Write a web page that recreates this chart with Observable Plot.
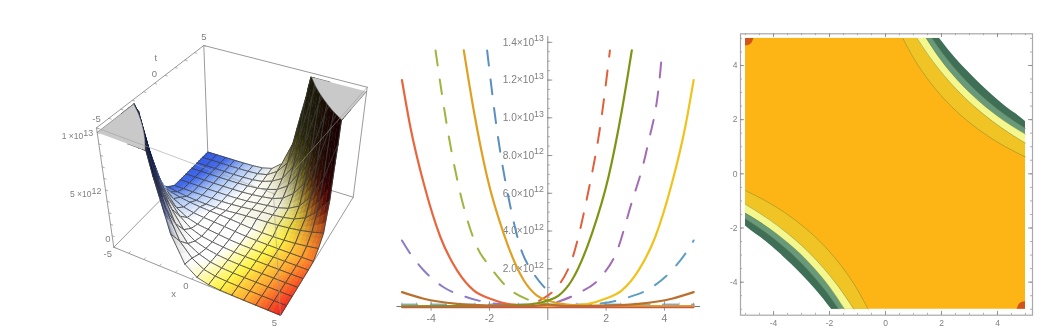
<!DOCTYPE html>
<html>
<head>
<meta charset="utf-8">
<script src="https://cdn.jsdelivr.net/npm/d3@7"></script>
<script src="https://cdn.jsdelivr.net/npm/@observablehq/plot@0.6"></script>
<style>
html,body{margin:0;padding:0;background:#fff;overflow:hidden}
#page{position:relative;width:1061px;height:335px;overflow:hidden;filter:blur(0.35px)}
</style>
</head>
<body>
<div id="page"></div>
<script>
// ---------- surface (values in units of 1e12; rows t>0, columns x ascending) ----------
const gridNodes = [-5,-4.333,-3.667,-3,-2.333,-1.667,-1,-0.333,0.333,1,1.667,2.333,3,3.667,4.333,5];
const heightsT033 = [.5,.34,.22,.15,.12,.12,.16,.25,.33,.38,.42,.48,.58,.72,.92,1.2];
const heightsT100 = [.06,.05,.05,.05,.06,.08,.12,.2,.3,.38,.45,.55,.75,1.2,2.1,3.5];
const heightsT167 = [.03,.03,.03,.03,.04,.05,.08,.14,.25,.36,.48,.75,1.3,2.5,4.5,8];
const heightsT233 = [.02,.02,.02,.02,.03,.04,.07,.14,.25,.4,.75,1.5,2.8,5,9,17];
const heightsT300 = [.02,.02,.02,.02,.02,.04,.08,.17,.35,.65,1.3,2.8,5,9,16,30];
const heightsT367 = [.02,.02,.02,.02,.02,.04,.09,.22,.55,1.1,2.5,5,9,16,30,55];
const heightsT433 = [.02,.02,.02,.02,.03,.05,.11,.3,.9,2,4.5,9,16,30,50,80];
const heightsT500 = [.02,.02,.02,.02,.03,.05,.12,.35,1.1,3.3,8,17,30,55,80,120];
const upperRows = [heightsT033,heightsT100,heightsT167,heightsT233,heightsT300,heightsT367,heightsT433,heightsT500];

// ---------- slices (x, y in units of 1e12) ----------
const orangeX = [-5,-4.71,-4.25,-3.68,-3.11,-2.54,-1.97,-1.39,-.71,0,1,3,5];
const orangeY = [12,9.5,6.5,3.67,1.91,.85,.41,.14,.05,.02,.01,.01,.01];
const yellowX = [-5,-3,-1,0,.71,1.39,1.97,2.54,3.11,3.68,4.25,4.71,5];
const yellowY = [.01,.01,.01,.02,.05,.14,.41,.85,1.91,3.67,6.5,9.5,12];
const goldX = [-2.88,-2.54,-2.08,-1.51,-.82,-.37,0,.66,1.7,5];
const goldY = [13.57,10.4,6.86,3.85,1.38,.58,.32,.1,.04,.01];
const oliveX = [-5,-1.7,-.66,0,.37,.82,1.51,2.08,2.54,2.88];
const oliveY = [.01,.04,.1,.32,.58,1.38,3.85,6.86,10.4,13.57];
const greenDashX = [-3.85,-3.39,-2.94,-2.42,-1.97,-1.39,-.6,0];
const greenDashY = [13.57,8.97,5.62,3.14,2.08,1.02,.32,.14];
const purpleDashX = [.32,1,1.81,2.38,2.83,3.41,3.86,3.92];
const purpleDashY = [.23,.67,1.55,2.97,5.27,8.45,12.5,13.57];
const blueDashX = [-2.08,-1.74,-1.28,-.94,-.48,-.02,.2];
const blueDashY = [13.57,9.33,5.27,3.14,1.73,.85,.5];
const redDashX = [-.3,0,.32,.89,1.35,1.81,2.13];
const redDashY = [.3,.58,1.02,2.79,5.8,9.68,13.57];
const lilacDashX = [-5,-4.71,-4.25,-3.57,-2.77,-1.74,-.82];
const lilacDashY = [3.5,2.79,1.91,1.02,.49,.14,.05];
const skyDashX = [.82,1.74,2.77,3.57,4.25,4.71,5];
const skyDashY = [.05,.14,.49,1.02,1.91,2.79,3.5];
const brownX = [-5,-4.25,-3.11,-1.97,-.6,0,.6,1.97,3.11,4.25,5];
const brownY = [.76,.41,.14,.05,.02,.1,.02,.05,.14,.41,.76];
const baseX = [-5,-2.5,0,2.5,5];
const baseTealY = [.1,.1,.1,.1,.1];
const baseLilacY = [.08,.08,.08,.08,.08];
const baseRedY = [-.05,-.05,-.05,-.05,-.05];

const sliceTicks = [2,4,6,8,10,12,14];
const sliceTickBases = ["2.0×10","4.0×10","6.0×10","8.0×10","1.0×10","1.2×10","1.4×10"];
const sliceTickExps = ["12","12","12","12","13","13","13"];
const evenTicks = [-4,-2,2,4];

// ---------- contours (upper-right branch: x, t) ----------
const contour1X = [.62,1,1.6,2.42,3.37,4.28,5];
const contour1T = [5,4.28,3.37,2.42,1.6,1,.62];
const contour2X = [1.13,1.7,2.2,2.82,3.5,4.14,5];
const contour2T = [5,4.14,3.5,2.82,2.2,1.7,1.13];
const contour3X = [1.46,1.96,2.6,3,3.43,4.23,5];
const contour3T = [5,4.23,3.43,3,2.6,1.96,1.46];
const contour4X = [1.67,2.14,2.7,3.15,3.63,4.32,5];
const contour4T = [5,4.32,3.63,3.15,2.7,2.14,1.67];
const contour5X = [1.93,2.5,2.9,3.35,3.82,4.27,5];
const contour5T = [5,4.27,3.82,3.35,2.9,2.5,1.93];
const cornerX = [-5,-4.85,-4.75,-4.7];
const cornerT = [4.72,4.76,4.87,5];

const zip = (xs, ys) => xs.map((x,i) => ({x, y: ys[i]}));
const font = "'Liberation Sans', Arial, sans-serif";
const labelGray = "#808080";
const page = document.getElementById("page");

// ========== Panel 1: 3D surface ==========
const bottomFace = {l:[113.3,246.7], b:[207.3,151.7], r:[352.7,196.7], f:[280,315]};
const topFace    = {l:[96,127.3],    b:[203.3,45],    r:[366.7,86.7],  f:[273,193]};
const zTop = 10.4, zCap = 10;
function homography(F){
  const [x0,y0]=F.l,[x1,y1]=F.f,[x2,y2]=F.r,[x3,y3]=F.b;
  const dx1=x1-x2,dx2=x3-x2,sx=x0-x1+x2-x3,dy1=y1-y2,dy2=y3-y2,sy=y0-y1+y2-y3;
  const den=dx1*dy2-dx2*dy1, g=(sx*dy2-dx2*sy)/den, h=(dx1*sy-sx*dy1)/den;
  const a=x1-x0+g*x1,b=x3-x0+h*x3,d=y1-y0+g*y1,e=y3-y0+h*y3;
  return (u,v)=>{const w=g*u+h*v+1;return [(a*u+b*v+x0)/w,(d*u+e*v+y0)/w];};
}
const bottomMap = homography(bottomFace), topMap = homography(topFace);
function project(x,t,z){
  const a=(x+5)/10, b=(t+5)/10, h=z/zTop;
  const p0=bottomMap(a,b), p1=topMap(a,b);
  return {x:(1-h)*p0[0]+h*p1[0], y:(1-h)*p0[1]+h*p1[1]};
}
const heightRows = [...upperRows.slice().reverse().map(r=>r.slice().reverse()), ...upperRows]; // t ascending
const floorRamp = d3.scaleLinear()
  .domain([-6.5,-5,-3.5,-1.5,1.2,3,4.6,6.5])
  .range(["#2f55e6","#3f68ea","#a8c4f6","#ffffff","#ffffff","#fff345","#ffa52e","#f01c1c"])
  .clamp(true);
const clamp01 = v => Math.max(0,Math.min(1,v));
function surfaceColor(x,t,z){
  let base = floorRamp(x - 0.3*t);
  let k;
  if (x+t < 0) {
    base = d3.interpolateRgb(base,"#2f55e6")(clamp01((z-3)/3));
    k = .8*(1-Math.exp(-Math.pow(z/6,2)));
  } else {
    const wall = d3.interpolateRgb("#e8d838","#d01010")(clamp01((x-2.5)/2));
    base = d3.interpolateRgb(base,wall)(clamp01(z/4));
    k = .88*(1-Math.exp(-Math.pow(z/3,1.6)));
  }
  return d3.interpolateRgb(base,"#000")(k);
}
const SUB = 3, surfacePts = [];
let gid = 0;
const order = [];
for (let ti=0;ti<15;ti++) for (let xi=0;xi<15;xi++) order.push([ti,xi]);
order.sort((p,q)=>(gridNodes[p[1]]-gridNodes[p[0]])-(gridNodes[q[1]]-gridNodes[q[0]]));
function zAt(ti,xi,u,v){
  const r0=heightRows[ti], r1=heightRows[ti+1];
  return (1-v)*((1-u)*r0[xi]+u*r0[xi+1]) + v*((1-u)*r1[xi]+u*r1[xi+1]);
}
for (const [ti,xi] of order){
  const x0=gridNodes[xi], x1=gridNodes[xi+1], t0=gridNodes[ti], t1=gridNodes[ti+1];
  const pt=(u,v)=>{const z=zAt(ti,xi,u,v);const p=project(x0+(x1-x0)*u,t0+(t1-t0)*v,Math.min(z,zCap));return {...p,z};};
  if (Math.min(heightRows[ti][xi],heightRows[ti][xi+1],heightRows[ti+1][xi],heightRows[ti+1][xi+1])>=zCap) continue;
  for (let i=0;i<SUB;i++) for (let j=0;j<SUB;j++){
    const u0=i/SUB,u1=(i+1)/SUB,v0=j/SUB,v1=(j+1)/SUB;
    const q=[pt(u0,v0),pt(u1,v0),pt(u1,v1),pt(u0,v1)];
    const uc=(u0+u1)/2,vc=(v0+v1)/2,zc=zAt(ti,xi,uc,vc);
    if (q.every(p=>p.z>=zCap)) continue;
    const c=surfaceColor(x0+(x1-x0)*uc,t0+(t1-t0)*vc,Math.min(zc,zCap));
    gid++;
    q.forEach(p=>surfacePts.push({x:p.x,y:p.y,id:gid,fill:c,stroke:c}));
  }
  gid++;
  const ring=[pt(0,0),pt(1/3,0),pt(2/3,0),pt(1,0),pt(1,1/3),pt(1,2/3),pt(1,1),pt(2/3,1),pt(1/3,1),pt(0,1),pt(0,2/3),pt(0,1/3),pt(0,0)];
  ring.forEach(p=>surfacePts.push({x:p.x,y:p.y,id:gid,fill:"none",stroke:"#3c3c3c"}));
}
const boxEdge = (a,b)=>[project(...a),project(...b)];
const backEdges = [
  boxEdge([-5,-5,zTop],[-5,5,zTop]), boxEdge([-5,5,zTop],[5,5,zTop]),
  boxEdge([-5,5,0],[-5,5,zTop]), boxEdge([-5,-5,0],[-5,5,0]), boxEdge([-5,5,0],[5,5,0]),
  boxEdge([-5,-5,0],[-5,-5,zTop]), boxEdge([5,5,0],[5,5,zTop]),
  boxEdge([-5,-5,0],[5,-5,0]), boxEdge([5,-5,0],[5,5,0])
].flatMap((e,i)=>e.map(p=>({...p,id:i})));
const frontEdges = [
  boxEdge([-5,-5,zTop],[5,-5,zTop]), boxEdge([5,-5,zTop],[5,5,zTop]), boxEdge([5,-5,0],[5,-5,zTop])
].flatMap((e,i)=>e.map(p=>({...p,id:i})));
const capRight = [...contour5X.map((x,i)=>project(x,contour5T[i],zCap)), project(5,5,zCap)];
const capLeft  = [...contour5X.map((x,i)=>project(-x,-contour5T[i],zCap)), project(-5,-5,zCap)];
const tickVals = d3.range(-5,5.01,1);
const xAxisTicks = tickVals.flatMap((v,i)=>boxEdge([v,-5,0],[v,-4.85,0]).map(p=>({...p,id:"x"+i})));
const tAxisTicks = tickVals.flatMap((v,i)=>boxEdge([-5,v,zTop],[-4.85,v,zTop]).map(p=>({...p,id:"t"+i})));
const zAxisTicks = d3.range(0,10.01,1).flatMap((v,i)=>boxEdge([-5,-5,v],[-4.85,-5,v]).map(p=>({...p,id:"z"+i})));
const tLabels = [{v:-5,s:"-5"},{v:0,s:"0"},{v:5,s:"5"}].map(d=>({...project(-5,d.v,zTop),s:d.s}));
const xLabels = [{v:-5,s:"-5"},{v:0,s:"0"},{v:5,s:"5"}].map(d=>({...project(d.v,-5,0),s:d.s}));
const zLabels = [{v:5,b:"5 ×10",e:"12"},{v:10,b:"1 ×10",e:"13"}].map(d=>({...project(-5,-5,d.v),b:d.b,e:d.e}));

const p1 = Plot.plot({
  width:385,height:335,margin:0,axis:null,
  x:{domain:[0,385],range:[0,385]},y:{domain:[0,335],range:[0,335]},
  style:{position:"absolute",left:"0px",top:"0px",fontFamily:font,background:"transparent"},
  marks:[
    Plot.line(backEdges,{x:"x",y:"y",z:"id",stroke:"#9a9a9a",strokeWidth:1}),
    Plot.line([...xAxisTicks,...tAxisTicks,...zAxisTicks],{x:"x",y:"y",z:"id",stroke:"#9a9a9a",strokeWidth:.8}),
    Plot.line(surfacePts,{x:"x",y:"y",z:"id",
      fill:{value:"fill",scale:null},stroke:{value:"stroke",scale:null},strokeWidth:.8,curve:"linear"}),
    Plot.line(capRight,{x:"x",y:"y",fill:"#c9c9c9",stroke:"#555",strokeWidth:.5}),
    Plot.line(capLeft,{x:"x",y:"y",fill:"#c9c9c9",stroke:"#555",strokeWidth:.5}),
    Plot.line(frontEdges,{x:"x",y:"y",z:"id",stroke:"#9a9a9a",strokeWidth:1,strokeOpacity:.55}),
    Plot.text(tLabels,{x:"x",y:"y",text:"s",dx:0,dy:-9,fontSize:9.5,fill:labelGray}),
    Plot.text(xLabels,{x:"x",y:"y",text:"s",dx:-6,dy:7,fontSize:9.5,fill:labelGray}),
    Plot.text(zLabels,{x:"x",y:"y",text:"b",dx:-14,dy:4,textAnchor:"end",fontSize:8.5,fill:labelGray}),
    Plot.text(zLabels,{x:"x",y:"y",text:"e",dx:-14,dy:1,textAnchor:"start",fontSize:9,fill:labelGray}),
    Plot.text([project(-5,-5,0)],{x:"x",y:"y",text:["0"],dx:-6,dy:-8,fontSize:9.5,fill:labelGray}),
    Plot.text([project(-5,0.8,zTop)],{x:"x",y:"y",text:["t"],dx:-7,dy:-19,fontSize:9.5,fill:labelGray}),
    Plot.text([project(-0.5,-5,0)],{x:"x",y:"y",text:["x"],dx:-10,dy:18,fontSize:9.5,fill:labelGray})
  ]
});
page.appendChild(p1);

// ========== Panel 2: slices ==========
const solid = 2.2, dashW = 2, dash = "15,14";
const lineOf = (xs,ys,color,dashed,w,op) => Plot.line(zip(xs,ys),{x:"x",y:"y",stroke:color,strokeOpacity:op||1,
  strokeWidth:w||(dashed?dashW:solid),strokeDasharray:dashed?dash:undefined,curve:"monotone-x"});
const minorY = d3.range(0,14.01,.5), minorX = d3.range(-5,5.01,.5);
const p2 = Plot.plot({
  width:330,height:335,margin:0,axis:null,
  x:{domain:[-5.564,5.749],range:[0,330]},
  y:{domain:[-1.537,16.216],range:[335,0]},
  style:{position:"absolute",left:"385px",top:"0px",fontFamily:font,background:"transparent"},
  marks:[
    Plot.ruleX([0],{y1:-.74,y2:14.3,stroke:"#8a8a8a",strokeWidth:1}),
    Plot.ruleY(minorY,{x1:0,x2:.09,stroke:"#9a9a9a",strokeWidth:.8}),
    Plot.ruleY(sliceTicks,{x1:0,x2:.17,stroke:"#8a8a8a",strokeWidth:.9}),
    Plot.ruleX(minorX,{y1:-.05,y2:.18,stroke:"#9a9a9a",strokeWidth:.8}),
    Plot.ruleX(evenTicks,{y1:-.25,y2:.25,stroke:"#8a8a8a",strokeWidth:.9}),
    Plot.text(sliceTicks,{x:-.47,y:d=>d,text:(d,i)=>sliceTickBases[i],textAnchor:"end",fontSize:10.2,fill:labelGray}),
    Plot.text(sliceTicks,{x:-.47,y:d=>d,dy:-4,text:(d,i)=>sliceTickExps[i],textAnchor:"start",fontSize:8.8,fill:labelGray}),
    Plot.text(evenTicks,{x:d=>d,y:-.66,text:d=>String(d),fontSize:10.5,fill:labelGray}),
    lineOf(baseX,baseTealY,"#62a8c8",true,2.2,.8),
    lineOf(baseX,baseLilacY,"#a083b8",true,1.6,.45),
    lineOf(skyDashX,skyDashY,"#5f9fc4",true),
    lineOf(lilacDashX,lilacDashY,"#8d7cc6",true),
    lineOf(blueDashX,blueDashY,"#5b8fc0",true),
    lineOf(greenDashX,greenDashY,"#9eb53f",true),
    lineOf(purpleDashX,purpleDashY,"#a36cb4",true),
    lineOf(redDashX,redDashY,"#e0603c",true),
    Plot.ruleY([0],{x1:-5.17,x2:5.23,stroke:"#6f7480",strokeWidth:1.2}),
    lineOf(orangeX,orangeY,"#e8663e"),
    lineOf(yellowX,yellowY,"#f0c21c"),
    lineOf(goldX,goldY,"#dfa023"),
    lineOf(oliveX,oliveY,"#7f9414"),
    lineOf(brownX,brownY,"#b9702e",false,2.2),
    lineOf(baseX,baseRedY,"#c9564a",false,1.6)
  ]
});
page.appendChild(p2);

// ========== Panel 3: contours ==========
const bands = [
  {xs:contour1X,ts:contour1T,fill:"#f0c424"},
  {xs:contour2X,ts:contour2T,fill:"#f3f78e"},
  {xs:contour3X,ts:contour3T,fill:"#67997a"},
  {xs:contour4X,ts:contour4T,fill:"#406f58"},
  {xs:[...contour5X,5.06],ts:[...contour5T,1.87],fill:"#ffffff",top:5.06}
];
const bandMarks = bands.flatMap(b=>{
  const up = zip(b.xs,b.ts);
  const down = up.map(p=>({x:-p.x,y:-p.y})).reverse();
  const top = b.top||5;
  const marks = [
    Plot.areaY(up,{x:"x",y1:"y",y2:top,fill:b.fill,curve:"monotone-x"}),
    Plot.areaY(down,{x:"x",y1:"y",y2:-top,fill:b.fill,curve:"monotone-x"})
  ];
  if (!b.top) marks.push(
    Plot.line(up,{x:"x",y:"y",stroke:"#6b7a3a",strokeOpacity:.6,strokeWidth:.7,curve:"monotone-x"}),
    Plot.line(down,{x:"x",y:"y",stroke:"#6b7a3a",strokeOpacity:.6,strokeWidth:.7,curve:"monotone-x"})
  );
  return marks;
});
const cornerUp = zip(cornerX,cornerT);
const cornerDown = cornerUp.map(p=>({x:-p.x,y:-p.y})).reverse();
const major = [-4,-2,0,2,4], minor = d3.range(-5,5.01,.5);
const xLo=-5.18, xHi=5.25, yLo=-5.22, yHi=5.17;
const p3 = Plot.plot({
  width:341,height:335,
  marginLeft:20,marginRight:29,marginTop:33.3,marginBottom:20.3,axis:null,
  x:{domain:[xLo,xHi]},y:{domain:[yLo,yHi]},
  style:{position:"absolute",left:"720px",top:"0px",fontFamily:font,background:"transparent"},
  marks:[
    Plot.rect([0],{x1:-5,x2:5,y1:-5,y2:5,fill:"#fdb515"}),
    ...bandMarks,
    Plot.areaY(cornerUp,{x:"x",y1:"y",y2:5,fill:"#d2541a",curve:"monotone-x"}),
    Plot.areaY(cornerDown,{x:"x",y1:"y",y2:-5,fill:"#d2541a",curve:"monotone-x"}),
    Plot.frame({stroke:"#a8a8a8",strokeWidth:1.2}),
    Plot.ruleX(minor,{y1:yLo,y2:yLo+.07,stroke:"#999",strokeWidth:.8}),
    Plot.ruleX(minor,{y1:yHi-.07,y2:yHi,stroke:"#999",strokeWidth:.8}),
    Plot.ruleY(minor,{x1:xLo,x2:xLo+.07,stroke:"#999",strokeWidth:.8}),
    Plot.ruleY(minor,{x1:xHi-.07,x2:xHi,stroke:"#999",strokeWidth:.8}),
    Plot.ruleX(major,{y1:yLo,y2:yLo+.14,stroke:"#888",strokeWidth:.9}),
    Plot.ruleX(major,{y1:yHi-.14,y2:yHi,stroke:"#888",strokeWidth:.9}),
    Plot.ruleY(major,{x1:xLo,x2:xLo+.14,stroke:"#888",strokeWidth:.9}),
    Plot.ruleY(major,{x1:xHi-.14,x2:xHi,stroke:"#888",strokeWidth:.9}),
    Plot.text(major,{x:d=>d,y:yLo,dy:8,text:d=>String(d),fontSize:8.5,fill:labelGray}),
    Plot.text(major,{x:xLo,y:d=>d,dx:-3,text:d=>String(d),textAnchor:"end",fontSize:8.5,fill:labelGray})
  ]
});
page.appendChild(p3);
</script>
</body>
</html>
